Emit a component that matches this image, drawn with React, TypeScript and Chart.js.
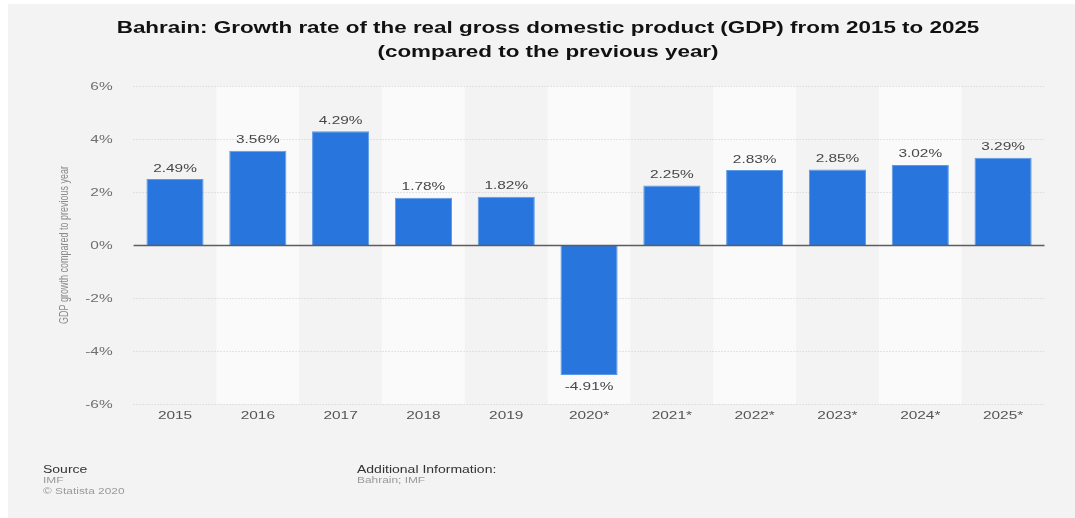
import React, { useEffect, useRef } from "react";
import { Chart, registerables } from "chart.js";
Chart.register(...registerables);

const categories = ["2015", "2016", "2017", "2018", "2019", "2020*", "2021*", "2022*", "2023*", "2024*", "2025*"];
const growthValues = [2.49, 3.56, 4.29, 1.78, 1.82, -4.91, 2.25, 2.83, 2.85, 3.02, 3.29];
const yTicks = [-6, -4, -2, 0, 2, 4, 6];
const titleLines = [
  "Bahrain: Growth rate of the real gross domestic product (GDP) from 2015 to 2025",
  "(compared to the previous year)",
];
const yAxisTitle = "GDP growth compared to previous year";
const sourceLines = ["Source", "IMF", "© Statista 2020"];
const infoLines = ["Additional Information:", "Bahrain; IMF"];

const FONT = '"Liberation Sans", Arial, Helvetica, sans-serif';
const SX = 1.4;
const W = 1067;
const H = 514;

function drawText(
  ctx: CanvasRenderingContext2D,
  text: string,
  x: number,
  y: number,
  font: string,
  color: string,
  align: CanvasTextAlign,
  sx: number = SX
) {
  ctx.save();
  ctx.font = font;
  ctx.fillStyle = color;
  ctx.textBaseline = "alphabetic";
  ctx.textAlign = align;
  ctx.translate(x, y);
  ctx.scale(sx, 1);
  ctx.fillText(text, 0, 0);
  ctx.restore();
}

const decorPlugin = {
  id: "decor",
  beforeDraw(chart: any) {
    const ctx: CanvasRenderingContext2D = chart.ctx;
    const { chartArea } = chart;
    const xs = chart.scales.x;
    ctx.save();
    ctx.fillStyle = "#f3f3f3";
    ctx.fillRect(0, 0, chart.width, chart.height);
    const cw = (chartArea.right - chartArea.left) / categories.length;
    ctx.fillStyle = "#fafafa";
    categories.forEach((_, i) => {
      if (i % 2 === 1) {
        const cx = xs.getPixelForValue(i);
        ctx.fillRect(cx - cw / 2, chartArea.top, cw, chartArea.bottom - chartArea.top);
      }
    });
    ctx.restore();
  },
  beforeDatasetsDraw(chart: any) {
    const ctx: CanvasRenderingContext2D = chart.ctx;
    const { chartArea } = chart;
    const ys = chart.scales.y;
    ctx.save();
    ctx.strokeStyle = "#cdcdcd";
    ctx.lineWidth = 1;
    ctx.setLineDash([1, 2]);
    yTicks.forEach((t) => {
      if (t === 0) return;
      const y = Math.round(ys.getPixelForValue(t)) + 0.5;
      ctx.beginPath();
      ctx.moveTo(chartArea.left, y);
      ctx.lineTo(chartArea.right, y);
      ctx.stroke();
    });
    ctx.restore();
  },
  afterDatasetsDraw(chart: any) {
    const ctx: CanvasRenderingContext2D = chart.ctx;
    const { chartArea } = chart;
    const xs = chart.scales.x;
    const ys = chart.scales.y;
    // zero line
    ctx.save();
    ctx.strokeStyle = "#5c5c5c";
    ctx.lineWidth = 1.3;
    const y0 = Math.round(ys.getPixelForValue(0)) + 0.5;
    ctx.beginPath();
    ctx.moveTo(chartArea.left, y0);
    ctx.lineTo(chartArea.right, y0);
    ctx.stroke();
    ctx.restore();

    const labelFont = `11px ${FONT}`;
    // data labels
    const meta = chart.getDatasetMeta(0);
    meta.data.forEach((bar: any, i: number) => {
      const v = growthValues[i];
      const text = v.toFixed(2) + "%";
      const yy = v >= 0 ? bar.y - 7.5 : bar.y + 15;
      drawText(ctx, text, bar.x, yy, labelFont, "#474747", "center");
    });
    // y tick labels
    yTicks.forEach((t) => {
      const y = ys.getPixelForValue(t);
      drawText(ctx, t + "%", chartArea.left - 21, y + 4, labelFont, "#6f6f6f", "right");
    });
    // x labels
    categories.forEach((c, i) => {
      const x = xs.getPixelForValue(i);
      drawText(ctx, c, x, chartArea.bottom + 15, labelFont, "#555555", "center");
    });
    // y axis title (rotated)
    ctx.save();
    ctx.translate(57, (chartArea.top + chartArea.bottom) / 2);
    ctx.scale(SX, 1);
    ctx.rotate(-Math.PI / 2);
    ctx.font = `9px ${FONT}`;
    ctx.fillStyle = "#8a8a8a";
    ctx.textAlign = "center";
    ctx.textBaseline = "middle";
    ctx.fillText(yAxisTitle, 0, 0);
    ctx.restore();
    // title
    drawText(ctx, titleLines[0], 540, 29, `bold 16px ${FONT}`, "#111111", "center");
    drawText(ctx, titleLines[1], 540, 53, `bold 16px ${FONT}`, "#111111", "center");
    // footer
    drawText(ctx, sourceLines[0], 35, 469, `10px ${FONT}`, "#333333", "left");
    drawText(ctx, sourceLines[1], 35, 479, `8.5px ${FONT}`, "#9a9a9a", "left");
    drawText(ctx, sourceLines[2], 35, 490, `8.5px ${FONT}`, "#9a9a9a", "left");
    drawText(ctx, infoLines[0], 349, 469, `10px ${FONT}`, "#333333", "left");
    drawText(ctx, infoLines[1], 349, 479, `8.5px ${FONT}`, "#9a9a9a", "left");
  },
};

export default function App() {
  const ref = useRef<HTMLCanvasElement | null>(null);
  useEffect(() => {
    if (!ref.current) return;
    const chart = new Chart(ref.current, {
      type: "bar",
      data: {
        labels: categories,
        datasets: [
          {
            data: growthValues,
            backgroundColor: "#2876dd",
            borderColor: "#5d9ae6",
            borderWidth: 1,
            categoryPercentage: 1,
            barPercentage: 0.69,
          },
        ],
      },
      options: {
        responsive: false,
        animation: false,
        devicePixelRatio: 1,
        layout: { padding: { left: 125.6, right: W - 1036.5, top: 82, bottom: H - 400 } },
        plugins: { legend: { display: false }, tooltip: { enabled: false }, title: { display: false } },
        scales: {
          x: {
            display: true,
            grid: { display: false },
            border: { display: false },
            ticks: { display: false },
            afterFit: (s: any) => {
              s.height = 0;
            },
          },
          y: {
            display: true,
            min: -6,
            max: 6,
            grid: { display: false },
            border: { display: false },
            ticks: { display: false, stepSize: 2 },
            afterFit: (s: any) => {
              s.width = 0;
            },
          },
        },
      },
      plugins: [decorPlugin],
    });
    return () => chart.destroy();
  }, []);
  return (
    <div style={{ position: "fixed", left: 8, top: 4, width: W, height: H }}>
      <canvas ref={ref} width={W} height={H} style={{ display: "block", width: W, height: H }} />
    </div>
  );
}
